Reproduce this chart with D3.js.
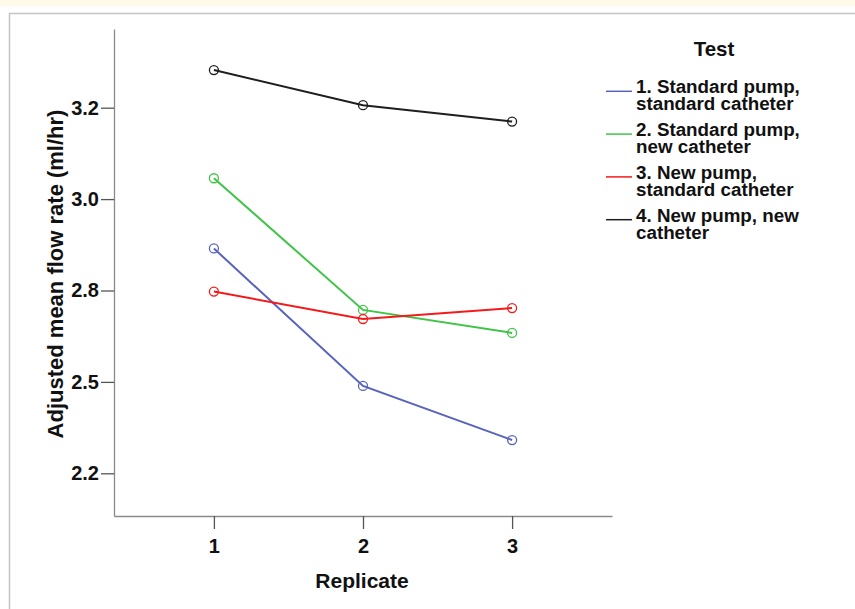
<!DOCTYPE html>
<html>
<head>
<meta charset="utf-8">
<script src="https://cdn.jsdelivr.net/npm/d3@7"></script>
<style>
  html, body { margin: 0; padding: 0; background: #fff; }
  svg { display: block; font-family: "Liberation Sans", Arial, sans-serif; }
</style>
</head>
<body>
<svg id="chart" width="855" height="609"></svg>
<script>
// ---- data ----
const replicates = [1, 2, 3];
const seriesNames = [
  ["1. Standard pump,", "standard catheter"],
  ["2. Standard pump,", "new catheter"],
  ["3. New pump,", "standard catheter"],
  ["4. New pump, new", "catheter"]
];
const standardPumpStandardCatheter = [2.865, 2.489, 2.341];
const standardPumpNewCatheter = [3.057, 2.697, 2.634];
const newPumpStandardCatheter = [2.747, 2.672, 2.702];
const newPumpNewCatheter = [3.353, 3.257, 3.212];
const yTickValues = [2.25, 2.5, 2.75, 3.0, 3.25];
const yTickLabels = ["2.2", "2.5", "2.8", "3.0", "3.2"];
const xTitle = "Replicate";
const yTitle = "Adjusted mean flow rate (ml/hr)";
const legendTitle = "Test";

const seriesValues = [standardPumpStandardCatheter, standardPumpNewCatheter, newPumpStandardCatheter, newPumpNewCatheter];
const colors = ["#5763bd", "#3fc447", "#f41a1a", "#1e1e1e"];

// ---- layout ----
const svg = d3.select("#chart");

// page frame
svg.append("rect").attr("x", 0).attr("y", 0).attr("width", 855).attr("height", 6).attr("fill", "#fffbe8");
svg.append("path").attr("d", "M9.5,609 V13.5 H855").attr("fill", "none").attr("stroke", "#c4c4c4").attr("stroke-width", 1.5);

const axisLeftX = 114, axisRightX = 612, axisTopY = 29, axisBottomY = 516;

const x = d3.scalePoint().domain(replicates).range([axisLeftX, axisRightX]).padding(0.67);
const yPxPerUnit = 365.6;
const y = d3.scaleLinear()
  .domain([2.25 - (axisBottomY - 473.3) / yPxPerUnit, 3.25 + (107.7 - axisTopY) / yPxPerUnit])
  .range([axisBottomY, axisTopY]);

// y axis
const yAxis = d3.axisLeft(y).tickValues(yTickValues)
  .tickFormat((d, i) => yTickLabels[i]).tickSize(13).tickPadding(2).tickSizeOuter(0);
const gy = svg.append("g").attr("transform", `translate(${axisLeftX},0)`).call(yAxis);
gy.select(".domain").attr("stroke", "#8a8a8a").attr("stroke-width", 1.3);
gy.selectAll(".tick line").attr("stroke", "#555").attr("stroke-width", 1.3);
gy.selectAll(".tick text").attr("fill", "#111").attr("font-size", 20).attr("font-weight", "bold")
  .attr("font-family", "Liberation Sans, Arial, sans-serif");

// x axis
const xAxis = d3.axisBottom(x).tickSize(13).tickPadding(10).tickSizeOuter(0);
const gx = svg.append("g").attr("transform", `translate(0,${axisBottomY})`).call(xAxis);
gx.select(".domain").attr("stroke", "#8a8a8a").attr("stroke-width", 1.3);
gx.selectAll(".tick line").attr("stroke", "#555").attr("stroke-width", 1.3);
gx.selectAll(".tick text").attr("fill", "#111").attr("font-size", 20).attr("font-weight", "bold")
  .attr("font-family", "Liberation Sans, Arial, sans-serif");

// axis titles
svg.append("text").attr("x", 362).attr("y", 588).attr("text-anchor", "middle")
  .attr("font-size", 21).attr("font-weight", "bold").attr("fill", "#111").text(xTitle);
svg.append("text").attr("transform", "translate(63,274) rotate(-90)").attr("text-anchor", "middle")
  .attr("font-size", 22).attr("font-weight", "bold").attr("fill", "#111").text(yTitle);

// lines and markers
const line = d3.line().x((d, i) => x(replicates[i])).y(d => y(d));
seriesValues.forEach((vals, s) => {
  svg.append("path").datum(vals).attr("d", line).attr("fill", "none")
    .attr("stroke", colors[s]).attr("stroke-width", 2);
  svg.selectAll(null).data(vals).enter().append("circle")
    .attr("cx", (d, i) => x(replicates[i])).attr("cy", d => y(d)).attr("r", 4.5)
    .attr("fill", "none").attr("stroke", colors[s]).attr("stroke-width", 1.3);
});

// legend
svg.append("text").attr("x", 714).attr("y", 56).attr("text-anchor", "middle")
  .attr("font-size", 20.5).attr("font-weight", "bold").attr("fill", "#111").text(legendTitle);
const legendTop = 93.3, itemPitch = 42.8, linePitch = 17;
seriesNames.forEach((lines, s) => {
  const by = legendTop + s * itemPitch;
  svg.append("line").attr("x1", 606).attr("x2", 632).attr("y1", by - 2).attr("y2", by - 2)
    .attr("stroke", colors[s]).attr("stroke-width", 1.5);
  const t = svg.append("text").attr("x", 636).attr("y", by).attr("font-size", 18.8)
    .attr("font-weight", "bold").attr("fill", "#111");
  lines.forEach((ln, j) => {
    t.append("tspan").attr("x", 636).attr("y", by + j * linePitch).text(ln);
  });
});
</script>
</body>
</html>
